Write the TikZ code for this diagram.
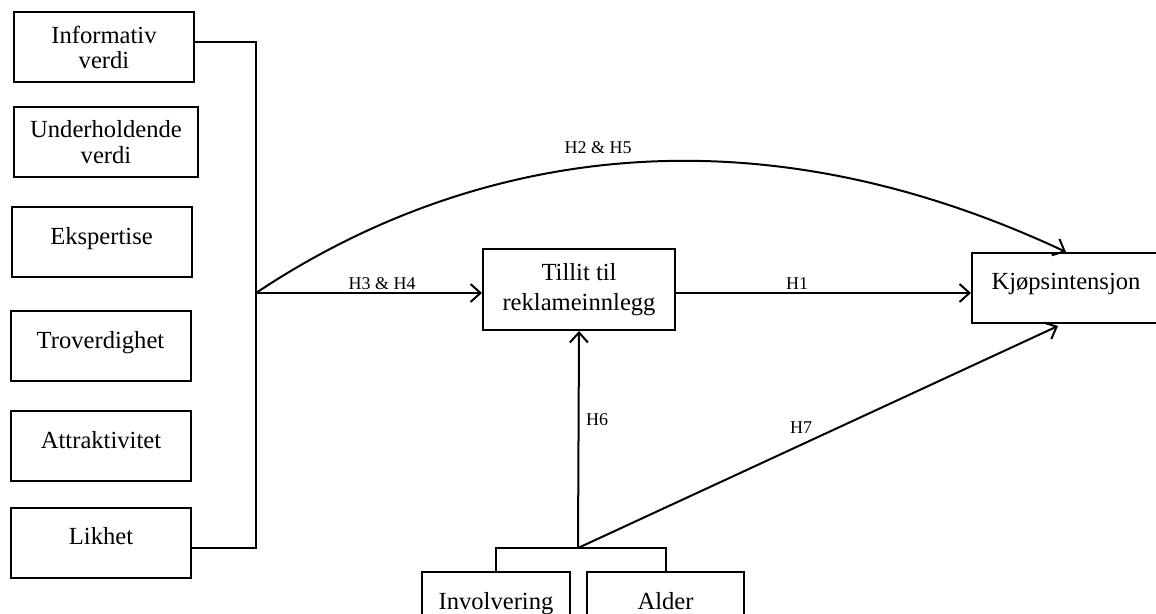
\documentclass[tikz,border=0pt]{standalone}
\usepackage{fontspec}
\setmainfont{Liberation Serif}
\usetikzlibrary{arrows.meta}

\begin{document}
\begin{tikzpicture}[x=0.5pt,y=-0.5pt,
  box/.style={draw,line width=1pt,align=center,inner sep=0pt,minimum width=90pt,minimum height=35pt,font=\fontsize{12.3}{12.8}\selectfont},
  onebox/.style={box,text height=9pt,text depth=7pt},
  lbl/.style={inner sep=0pt,font=\fontsize{9}{10}\selectfont},
  link/.style={line width=1pt},
  arr/.style={link,-{Straight Barb[length=5pt,width=9pt,line width=1pt]}}]
\useasboundingbox (0,0) rectangle (1156,614);

% left column
\node[box] (info) at (104,47.5) {Informativ\\verdi};
\node[box,minimum width=92pt] (under) at (106,142) {Underholdende\\verdi};
\node[onebox] (eksp) at (101.5,242.5) {Ekspertise};
\node[onebox] (trov) at (100.5,346.5) {Troverdighet};
\node[onebox] (attr) at (101,446) {Attraktivitet};
\node[onebox] (likhet) at (101,542.5) {Likhet};

% middle and right
\node[box,minimum width=96pt,minimum height=40.5pt] (tillit) at (579,289.5) {Tillit til\\[2pt]reklameinnlegg};
\node[onebox,minimum width=94pt] (kjop) at (1066,288) {Kjøpsintensjon};
\node[onebox,minimum width=74pt] (invol) at (496,607) {Involvering};
\node[onebox,minimum width=78.5pt] (alder) at (665.5,607) {Alder};

\coordinate (bustop) at (256,42);
\coordinate (busbot) at (256,548);
\coordinate (split) at (256,293);
\coordinate (base) at (578,548);

% bus on the left
\draw[link] (info.east |- bustop) -- (bustop) -- (busbot) -- (likhet.east |- busbot);

\draw[arr] (split) -- (split -| tillit.west);
\draw[arr] (split) .. controls (440,170) and (720,90) .. (kjop.north);
\draw[arr] (tillit.east |- split) -- (kjop.west |- split);
\draw[arr] (base) -- (tillit.south);
\draw[arr] (base) -- ([xshift=-4pt,yshift=-1pt]kjop.south);
\draw[link] (invol.north) |- (base) -| (alder.north);

% labels
\node[lbl] (h25) at (598,148) {H2 \& H5};
\node[lbl] (h34) at (382,284) {H3 \& H4};
\node[lbl] (h1) at (797,284) {H1};
\node[lbl] (h6) at (597,420) {H6};
\node[lbl] (h7) at (801,428) {H7};

\end{tikzpicture}
\end{document}
